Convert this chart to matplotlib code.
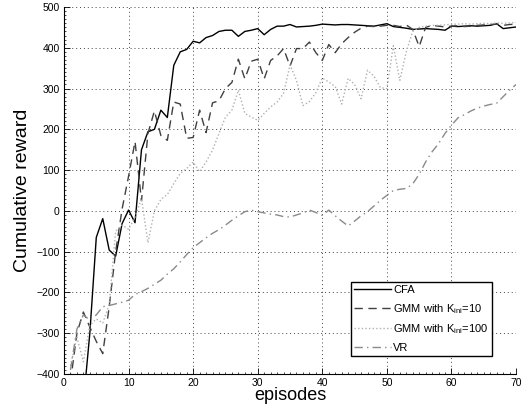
import matplotlib
matplotlib.use("Agg")
import matplotlib.pyplot as plt
from matplotlib.ticker import MultipleLocator

plt.rcParams['font.family'] = ['Liberation Sans', 'DejaVu Sans']
plt.rcParams['mathtext.fontset'] = 'custom'
plt.rcParams['mathtext.rm'] = 'Liberation Sans'
plt.rcParams['mathtext.it'] = 'Liberation Sans'

episodes = list(range(1, 71))

cfa = [-700, -600, -470, -300, -65, -19, -96, -111, -31, 2,
       -29, 150, 194, 200, 247, 229, 357, 390, 396, 416,
       412, 425, 430, 440, 443, 443, 428, 440, 443, 447,
       432, 445, 453, 453, 457, 451, 452, 453, 455, 458,
       457, 456, 457, 457, 456, 455, 454, 453, 456, 459,
       452, 450, 448, 445, 446, 447, 446, 445, 443, 453,
       452, 453, 454, 453, 454, 455, 459, 447, 449, 451]

gmm10 = [-420, -300, -248, -285, -320, -350, -235, -100, 5, 85,
         170, 25, 190, 245, 185, 173, 267, 262, 178, 180,
         247, 192, 265, 270, 300, 315, 372, 324, 367, 372,
         324, 369, 380, 398, 355, 398, 398, 414, 388, 369,
         408, 388, 410, 425, 438, 448, 453, 452, 453, 455,
         455, 452, 456, 445, 403, 450, 455, 453, 451, 453,
         454, 452, 453, 455, 456, 457, 458, 455, 457, 458]

gmm100 = [-380, -310, -370, -280, -265, -275, -230, -50, -35, -45,
          -15, 30, -78, 0, 28, 40, 67, 92, 104, 120,
          96, 120, 149, 190, 230, 247, 296, 239, 230, 222,
          239, 255, 267, 288, 358, 320, 258, 268, 290, 326,
          316, 305, 262, 325, 310, 275, 345, 330, 302, 300,
          405, 320, 390, 440, 450, 453, 455, 455, 456, 458,
          458, 459, 458, 459, 460, 459, 461, 460, 461, 462]

vr = [-390, -290, -255, -268, -255, -235, -232, -228, -224, -219,
      -205, -198, -190, -180, -170, -155, -142, -125, -107, -90,
      -78, -66, -55, -46, -35, -23, -12, -2, 2, -2,
      -5, -8, -10, -14, -15, -10, -5, 2, -4, -11,
      2, -12, -25, -37, -25, -12, -2, 12, 26, 38,
      50, 53, 55, 66, 90, 120, 145, 165, 190, 210,
      228, 236, 245, 252, 257, 261, 264, 280, 296, 310]

labels = ['CFA', r'GMM with K$_{\mathrm{ini}}$=10',
          r'GMM with K$_{\mathrm{ini}}$=100', 'VR']

fig = plt.figure(figsize=(5.22, 4.11), dpi=100)
ax = fig.add_axes([0.1226, 0.090, 0.866, 0.893])

ax.plot(episodes, cfa, color='black', lw=1.0, ls='-', label=labels[0])
ax.plot(episodes, gmm10, color='#404040', lw=1.0, ls=(0, (6, 4)), label=labels[1])
ax.plot(episodes, gmm100, color='#b0b0b0', lw=1.0, ls=(0, (1, 1.6)), label=labels[2])
ax.plot(episodes, vr, color='#8a8a8a', lw=1.0, ls=(0, (6, 3, 1, 3)), label=labels[3])

ax.set_xlim(0, 70)
ax.set_ylim(-400, 500)
ax.xaxis.set_major_locator(MultipleLocator(10))
ax.yaxis.set_major_locator(MultipleLocator(100))
ax.xaxis.set_minor_locator(MultipleLocator(1))
ax.yaxis.set_minor_locator(MultipleLocator(10))
ax.tick_params(which='major', direction='in', length=4, width=0.6, labelsize=7.5, pad=3)
ax.tick_params(which='minor', direction='in', length=1.5, width=0.5)

for s in ['top', 'right']:
    ax.spines[s].set_visible(False)
for s in ['left', 'bottom']:
    ax.spines[s].set_linewidth(0.8)

ax.grid(True, which='major', ls=(0, (1, 3)), color='#444444', lw=0.7)

ax.set_xlabel('episodes', fontsize=13, labelpad=-1)
ax.set_ylabel('Cumulative reward', fontsize=14, labelpad=4)

leg = ax.legend(loc='lower right', bbox_to_anchor=(0.947, 0.049), fontsize=8,
                frameon=True, fancybox=False, framealpha=1, edgecolor='black',
                handlelength=3.3, handletextpad=0.2, borderpad=0.3, labelspacing=0.6,
                borderaxespad=0)
leg.get_frame().set_linewidth(1.0)

fig.savefig('out.png', dpi=100)
